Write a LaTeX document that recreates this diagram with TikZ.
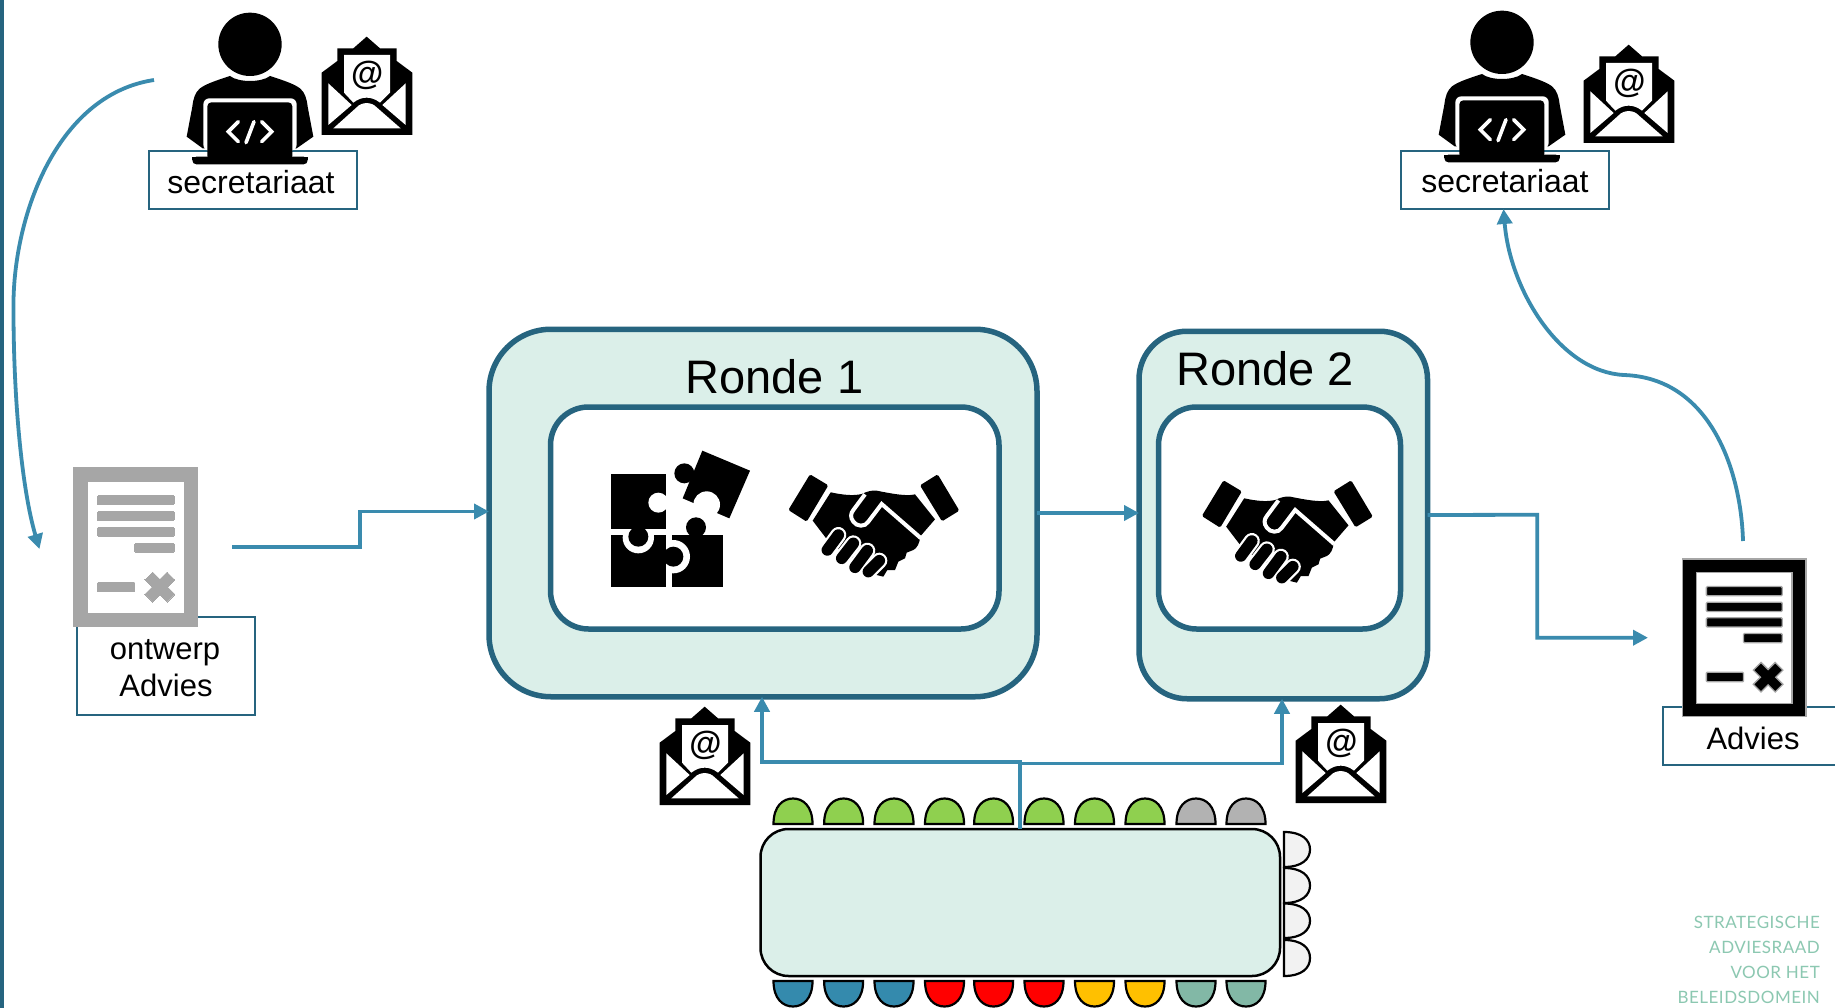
\documentclass[tikz,border=0pt]{standalone}
\usepackage{fontspec}
\setmainfont{Liberation Sans}
\newfontfamily\logofont[LetterSpace=3]{Lato}
\usetikzlibrary{arrows.meta}
\definecolor{flow}{HTML}{3A8BAE}
\definecolor{frame}{HTML}{26647F}
\definecolor{panel}{HTML}{DBEFE9}
\definecolor{cgreen}{HTML}{8FD04F}
\definecolor{cgray}{HTML}{B2B2B2}
\definecolor{cblue}{HTML}{348AAD}
\definecolor{cred}{HTML}{FF0000}
\definecolor{cyellow}{HTML}{FFC000}
\definecolor{cteal}{HTML}{82B8A6}
\definecolor{cpale}{HTML}{F2F2F2}
\definecolor{docgray}{HTML}{A6A6A6}
\definecolor{logo}{HTML}{8CC8B1}
\newcommand{\fs}[1]{\fontsize{#1}{#1}\selectfont}
\tikzset{
  flowline/.style={draw=flow,line width=3.8pt,-{Triangle[length=15pt,width=15pt]}},
  plainbox/.style={rectangle,draw=frame,line width=2pt,fill=white,inner sep=0pt,outer sep=0pt},
  bigpanel/.style={rectangle,draw=frame,line width=5.5pt,fill=panel,inner sep=0pt,outer sep=0pt},
  innerpanel/.style={rectangle,draw=frame,line width=5.5pt,fill=white,inner sep=0pt,outer sep=0pt,rounded corners=38pt},
  chairshape/.style={draw=black,line width=2.2pt},
}
% icon macros: drawn in 3x zoom coordinates, shifted by px offset
\newcommand{\personicon}[2]{%
 \begin{scope}[shift={(#1,#2)},scale=1/3]
  \fill (360,133) circle (95);
  \fill (300,228) .. controls (325,248) and (395,248) .. (420,228)
     .. controls (450,238) and (490,250) .. (510,265)
     .. controls (525,278) and (530,295) .. (533,320) -- (550,410) -- (500,445) -- (218,445) -- (170,410) -- (187,320)
     .. controls (190,295) and (195,278) .. (210,265)
     .. controls (230,250) and (270,238) .. (300,228) -- cycle;
  \fill[white,rounded corners=6pt] (220,295) rectangle (500,452);
  \fill[black,rounded corners=4pt] (232,307) rectangle (487,480);
  \fill[black,rounded corners=4pt] (187,470) rectangle (533,493);
  \fill[black] (187,470) rectangle (533,480);
  \draw[white,line width=3.6pt,line cap=round] (325,365) -- (295,395) -- (325,425);
  \draw[white,line width=3.6pt,line cap=round] (372,365) -- (348,428);
  \draw[white,line width=3.6pt,line cap=round] (395,365) -- (425,395) -- (395,425);
 \end{scope}}
\newcommand{\envelopeicon}[3]{%
 \begin{scope}[shift={(#1,#2)},scale=1/3]
  \fill (710,110) -- (750,145) -- (800,145) -- (800,183) -- (847,218) -- (847,405) -- (575,405) -- (575,218) -- (622,183) -- (622,145) -- (670,145) -- cycle;
  \fill[white] (642,165) -- (780,165) -- (780,278) -- (750,308) .. controls (725,288) and (695,288) .. (670,308) -- (642,278) -- cycle;
  \fill[white] (595,250) -- (665,315) -- (595,375) -- cycle;
  \fill[white] (827,250) -- (757,315) -- (827,375) -- cycle;
  \fill[white] (610,385) -- (680,322) .. controls (695,305) and (725,305) .. (740,322) -- (812,385) -- cycle;
  \node[inner sep=0pt] (#3) at (712,226) {\fs{33}\bfseries @};
 \end{scope}}
\newcommand{\docicon}[6]{% x y scale fill edge edgewidth
 \begin{scope}[shift={(#1,#2)},scale=#3]
  \path[fill=#4,draw=#5,line width=#6,even odd rule] (0,0) rectangle (125,160) (14,14) rectangle (111,146.7);
  \begin{scope}[fill=#4,draw=#5,line width=#6]
  \path[fill=#4,draw=#5,rounded corners=1pt] (24,28) rectangle (101,37.3);
  \path[fill=#4,draw=#5,rounded corners=1pt] (24,44) rectangle (101,53.3);
  \path[fill=#4,draw=#5,rounded corners=1pt] (24,59.7) rectangle (101,69);
  \path[fill=#4,draw=#5,rounded corners=1pt] (61.7,75.7) rectangle (101,85);
  \path[fill=#4,draw=#5,rounded corners=1pt] (24,115) rectangle (61.7,124.7);
  \path[fill=#4,draw=#5] (79.5,105) -- (86.7,112.2) -- (93.9,105) -- (101.7,112.8) -- (94.5,120) -- (101.7,127.2) -- (93.9,135) -- (86.7,127.8) -- (79.5,135) -- (71.7,127.2) -- (78.9,120) -- (71.7,112.8) -- cycle;
  \end{scope}
 \end{scope}}
\newcommand{\handshake}[2]{%
 \begin{scope}[shift={(#1,#2)},scale=1/3]
  \fill[rounded corners=1.5pt] (660,133) -- (715,166) -- (650,275) -- (595,240) -- cycle;
  \fill[rounded corners=1.5pt] (1043,133) -- (990,166) -- (1056,274) -- (1108,242) -- cycle;
  \fill (722,187) .. controls (760,195) and (790,198) .. (815,192) .. controls (830,185) and (845,180) .. (860,182)
     .. controls (900,190) and (950,200) .. (975,193) -- (1035,268) -- (990,320)
     .. controls (990,340) and (980,355) .. (970,360) -- (950,368) -- (945,385) -- (925,395) -- (915,420) -- (892,420) -- (880,440) -- (860,435) -- (720,340) -- (668,272) -- cycle;
  \draw[white,line width=4pt] (992,324) -- (875,222) -- (835,275) .. controls (825,292) and (800,290) .. (790,275) .. controls (780,262) and (782,250) .. (790,240) -- (825,193);
  \foreach \xa/\ya/\xb/\yb in {745/315/712/360,790/340/755/385,832/362/795/412,868/392/835/425}{
    \draw[white,line width=16pt,line cap=round] (\xa,\ya) -- (\xb,\yb);}
  \foreach \xa/\ya/\xb/\yb in {745/315/712/360,790/340/755/385,832/362/795/412,868/392/835/425}{
    \draw[black,line width=11.5pt,line cap=round] (\xa,\ya) -- (\xb,\yb);}
 \end{scope}}
\newcommand{\puzzleicon}[2]{%
 \begin{scope}[shift={(#1,#2)},scale=1/3]
  \fill (245,316) rectangle (400,472);
  \fill (318,292) circle (30);
  \fill[white] (250,380) circle (50);
  \fill (62,316) rectangle (228,472);
  \fill (250,380) circle (30);
  \fill[white] (145,323) circle (47);
  \fill (62,133) rectangle (228,298);
  \fill (145,320) circle (30);
  \fill[white] (205,218) circle (30);
  \fill (337,62) -- (480,122) -- (418,265) -- (278,205) -- cycle;
  \fill (283,130) circle (30);
  \fill[white] (350,224) circle (40);
 \end{scope}}
\begin{document}
\begin{tikzpicture}[x=1pt,y=-1pt]
\useasboundingbox (0,0) rectangle (1835,1008);
\clip (0,0) rectangle (1835,1008);
\fill[white] (0,0) rectangle (1835,1008);

% left page rule
\coordinate (ruletop) at (2,0);
\coordinate (rulebot) at (2,1008);
\draw[frame,line width=4.4pt] (ruletop) -- (rulebot);

% panels
\node[bigpanel,rounded corners=62pt,minimum width=548pt,minimum height=367.5pt] (ronde1) at (763,513) {};
\node[innerpanel,minimum width=448.5pt,minimum height=222pt] (inner1) at (774.75,518) {};
\node[bigpanel,rounded corners=48pt,minimum width=288.5pt,minimum height=367.5pt] (ronde2) at (1283.25,515) {};
\node[innerpanel,minimum width=242pt,minimum height=222pt] (inner2) at (1279.5,518) {};
\node[inner sep=0pt,anchor=base] (r1label) at (774.5,393) {\fs{47}Ronde 1};
\node[inner sep=0pt,anchor=base] (r2label) at (1265,385) {\fs{47}Ronde 2};

% table
\node[rectangle,draw=black,line width=2.5pt,fill=panel,rounded corners=28pt,minimum width=519.5pt,minimum height=147pt,inner sep=0pt,outer sep=0pt] (table) at (1020.25,902.5) {};
\foreach \cx/\cc in {793/cgreen,843.6/cgreen,894/cgreen,944.5/cgreen,993.6/cgreen,1044/cgreen,1094.5/cgreen,1145/cgreen,1196/cgray,1246/cgray}{
  \draw[chairshape,fill=\cc] (\cx-19.5,824) .. controls (\cx-19.5,806) and (\cx-10,798.5) .. (\cx,798.5) .. controls (\cx+10,798.5) and (\cx+19.5,806) .. (\cx+19.5,824) -- cycle;}
\foreach \cx/\cc in {793/cblue,843.6/cblue,894/cblue,944.5/cred,993.6/cred,1044/cred,1094.5/cyellow,1145/cyellow,1196/cteal,1246/cteal}{
  \draw[chairshape,fill=\cc] (\cx-19.5,981) .. controls (\cx-19.5,999) and (\cx-10,1006.5) .. (\cx,1006.5) .. controls (\cx+10,1006.5) and (\cx+19.5,999) .. (\cx+19.5,981) -- cycle;}
\foreach \ta/\tb in {832/867,868/903,903.5/938,940/976}{
  \draw[chairshape,fill=cpale] (1284,\ta) .. controls (1302,\ta) and (1310,\ta+8) .. (1310,{(\ta+\tb)/2}) .. controls (1310,\tb-8) and (1302,\tb) .. (1284,\tb) -- cycle;}

% boxes
\node[plainbox,minimum width=208pt,minimum height=58pt] (sec1) at (253,180) {};
\node[plainbox,minimum width=208pt,minimum height=58pt] (sec2) at (1505,180) {};
\node[plainbox,minimum width=178pt,minimum height=98pt] (ontwerp) at (165.8,665.8) {};
\node[plainbox,minimum width=180pt,minimum height=58pt] (advies) at (1753,736) {};
\node[inner sep=0pt,anchor=base] (sec1text) at (251,194) {\fs{32}secretariaat};
\node[inner sep=0pt,anchor=base] (sec2text) at (1505,193) {\fs{32}secretariaat};
\node[inner sep=0pt,anchor=base] (ontwerp1) at (165,659) {\fs{31}ontwerp};
\node[inner sep=0pt,anchor=base] (ontwerp2) at (166,696) {\fs{31}Advies};
\node[inner sep=0pt,anchor=base] (adviestext) at (1753,749) {\fs{31}Advies};

% icons
\personicon{130}{0}
\personicon{1382}{-2}
\envelopeicon{130}{0}{mail1}
\envelopeicon{1392}{8}{mail2}
\envelopeicon{468}{670}{mail3}
\envelopeicon{1104}{668}{mail4}
\docicon{73.6}{467.7}{0.995}{docgray}{docgray}{0pt}
\docicon{1682.7}{559}{0.985}{black}{docgray}{1.3pt}
\puzzleicon{590}{430}
\handshake{590}{430}
\handshake{1003.5}{436}

% connector points
\coordinate (astart) at (154,80);
\coordinate (abend) at (13.5,310);
\coordinate (aend) at (39.5,549);
\coordinate (bstart) at (232,547);
\coordinate (bturn) at (360,547);
\coordinate (bup) at (360,511.5);
\coordinate (dturn) at (1537.3,514.75);
\coordinate (dend) at (1648,637.7);
\coordinate (estart) at (1743,541);
\coordinate (ebend) at (1624,375);
\coordinate (junc) at (table.north |- 0,762);
\coordinate (jleft) at (762,762);
\coordinate (jmid) at (table.north |- 0,763.5);
\coordinate (jright) at (1282,763.5);

% connectors
\draw[flowline] (astart) .. controls (55,95) and (12,220) .. (abend) .. controls (13.5,400) and (22,490) .. (aend);
\draw[flowline] (bstart) -- (bturn) -- (bup) -- (bup -| ronde1.west);
\draw[flowline] (ronde1.east) -- (ronde1.east -| ronde2.west);
\draw[flowline] (ronde2.east) -- (dturn) -- (dturn |- dend) -- (dend);
\draw[flowline] (estart) .. controls (1741,470) and (1710,378) .. (ebend) .. controls (1560,372) and (1510,290) .. ([xshift=-1.5pt]sec2.south);
\draw[flowline] (table.north) -- (junc) -- (jleft) -- (jleft |- ronde1.south);
\draw[flowline] (jmid) -- (jright) -- (jright |- ronde2.south);

% logo
\node[inner sep=0pt,anchor=north east,align=right,text=logo,font=\logofont\fontsize{17}{25}\selectfont] (logotext) at (1820,916)
  {STRATEGISCHE\\ADVIESRAAD\\VOOR HET\\BELEIDSDOMEIN};
\end{tikzpicture}
\end{document}
